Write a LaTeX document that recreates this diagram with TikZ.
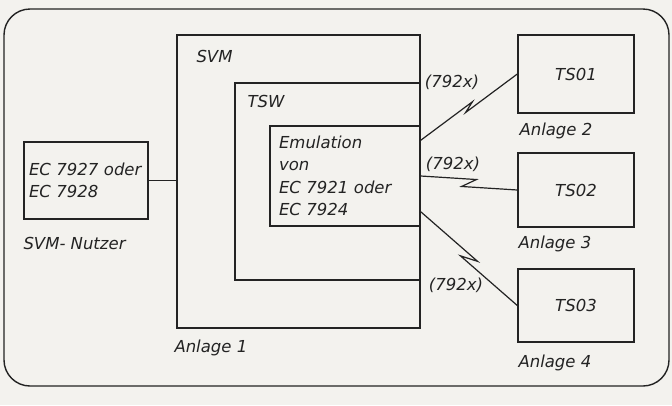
\documentclass[tikz,border=0pt]{standalone}
\usepackage{fontspec}
\setmainfont{DejaVu Sans}
\usetikzlibrary{calc}
\definecolor{ink}{RGB}{35,35,35}
\definecolor{paper}{RGB}{243,242,238}

\begin{document}
\begin{tikzpicture}[x=1pt,y=-1pt,
  every node/.style={font=\fontsize{16.5}{22.5}\selectfont\itshape,text=ink},
  box/.style={draw=ink,line width=1.4pt,inner sep=0pt},
  lbl/.style={anchor=west,inner sep=0pt},
  link/.style={draw=ink,line width=1.2pt}]
  \fill[paper] (0,0) rectangle (672,405);
  \useasboundingbox (0,0) rectangle (672,405);
  \draw[ink,line width=1.4pt,rounded corners=26pt] (4,9) rectangle (669,386);

  \node[box,minimum width=243pt,minimum height=293pt] (svm) at (298.5,181.5) {};
  \node[box,minimum width=185pt,minimum height=197pt] (tsw) at (327.5,181.5) {};
  \node[box,minimum width=150pt,minimum height=100pt,text width=132pt,inner xsep=9pt,align=left] (emu) at (345,176) {Emulation\\von\\EC 7921 oder\\EC 7924};
  \node[box,minimum width=124pt,minimum height=77pt,text width=114pt,inner xsep=5pt,align=left] (ec) at (86,180.5) {EC 7927 oder\\EC 7928};
  \node[box,minimum width=116pt,minimum height=78pt] (ts1) at (576,74) {TS01};
  \node[box,minimum width=116pt,minimum height=74pt] (ts2) at (576,190) {TS02};
  \node[box,minimum width=116pt,minimum height=73pt] (ts3) at (576,305.5) {TS03};

  \node[lbl] (svmlbl) at ($(svm.north west)+(20,22)$) {SVM};
  \node[lbl] (tswlbl) at ($(tsw.north west)+(13,19)$) {TSW};
  \node[lbl] (nutzer) at ($(ec.south west)+(0,24)$) {SVM- Nutzer};
  \node[lbl] (anl1) at ($(svm.south west)+(-2,19)$) {Anlage 1};
  \node[lbl] (anl2) at ($(ts1.south west)+(2,17)$) {Anlage 2};
  \node[lbl] (anl3) at ($(ts2.south west)+(1,16)$) {Anlage 3};
  \node[lbl] (anl4) at ($(ts3.south west)+(1,20)$) {Anlage 4};
  \node[lbl] (k1) at ($(tsw.north east)+(4,0)$) {(792x)};
  \node[lbl] (k2) at ($(emu.east)+(5,-12)$) {(792x)};
  \node[lbl] (k3) at ($(tsw.south east)+(8,5)$) {(792x)};

  \draw[link] (ec.east) -- (ec.east -| svm.west);
  \coordinate (s1) at ($(emu.north east)+(0,15)$);
  \coordinate (s3) at ($(emu.south east)+(0,-15)$);
  \draw[link] (s1) -- ($(s1)!.55!(ts1.west)!2.5pt!90:(ts1.west)$) -- ($(s1)!.45!(ts1.west)!2.5pt!-90:(ts1.west)$) -- (ts1.west);
  \draw[link] (emu.east) -- ($(emu.east)!.57!(ts2.west)!4.5pt!90:(ts2.west)$) -- ($(emu.east)!.43!(ts2.west)!4.5pt!-90:(ts2.west)$) -- (ts2.west);
  \draw[link] (s3) -- ($(s3)!.56!(ts3.west)!4pt!90:(ts3.west)$) -- ($(s3)!.44!(ts3.west)!4pt!-90:(ts3.west)$) -- (ts3.west);
\end{tikzpicture}
\end{document}
